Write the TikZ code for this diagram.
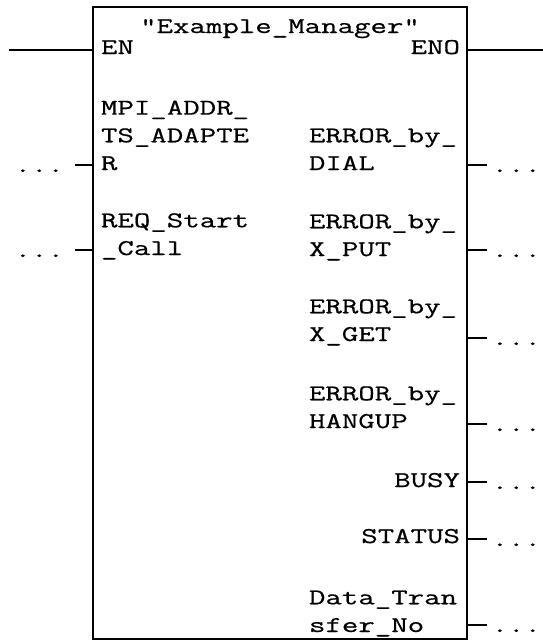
\documentclass[tikz,border=0pt]{standalone}
\usepackage{fontspec}
\newfontfamily\pinfont[FakeStretch=1.42,FakeBold=0.6]{Latin Modern Mono}
\begin{document}
\begin{tikzpicture}[x=1pt,y=-1pt,
  lbl/.style={font=\pinfont\fontsize{22.5}{27.7}\selectfont, inner sep=0pt, outer sep=0pt, text=black, align=left},
  fbbox/.style={draw=black, line width=1.6pt, minimum width=374pt, minimum height=632pt, inner sep=0pt, outer sep=0pt},
  wire/.style={draw=black, line width=1.4pt}]
\useasboundingbox (0,0) rectangle (543,641);
\node[fbbox] (fb) at (280,323) {};
% title
\node[lbl, anchor=base] (title) at (280,33) {"Example\_Manager"};
% EN / ENO
\node[lbl, anchor=base west] (en) at (101,54) {EN};
\node[lbl, anchor=base east] (eno) at (460,54) {ENO};
\coordinate (enL) at (9,50);
\coordinate (enoR) at (543,50);
\draw[wire] (enL) -- (enL -| fb.west);
\draw[wire] (enoR -| fb.east) -- (enoR);
% inputs (anchor = baseline of last line)
\node[lbl, anchor=base west] (in1) at (101,170) {MPI\_ADDR\_\\TS\_ADAPTE\\R};
\node[lbl, anchor=base west] (in2) at (101,255) {REQ\_Start\\\_Call};
\foreach \n/\y in {1/165,2/250}{
  \coordinate (i\n) at (75,\y);
  \draw[wire] (i\n) -- (i\n -| fb.west);
  \node[lbl, anchor=base west] (di\n) at (14.6,\y+7) {...};
}
% outputs
\node[lbl, anchor=base west] (o1) at (309,170) {ERROR\_by\_\\DIAL};
\node[lbl, anchor=base west] (o2) at (309,256) {ERROR\_by\_\\X\_PUT};
\node[lbl, anchor=base west] (o3) at (309,341) {ERROR\_by\_\\X\_GET};
\node[lbl, anchor=base west] (o4) at (309,428) {ERROR\_by\_\\HANGUP};
\node[lbl, anchor=base east] (o5) at (460,487) {BUSY};
\node[lbl, anchor=base east] (o6) at (460,543) {STATUS};
\node[lbl, anchor=base west] (o7) at (309,632) {Data\_Tran\\sfer\_No};
\foreach \n/\y in {1/165,2/250,3/338,4/424,5/482,6/539,7/625}{
  \coordinate (q\n) at (487,\y);
  \draw[wire] (q\n -| fb.east) -- (q\n);
  \node[lbl, anchor=base west] (dq\n) at (491.6,\y+7) {...};
}
\end{tikzpicture}
\end{document}
